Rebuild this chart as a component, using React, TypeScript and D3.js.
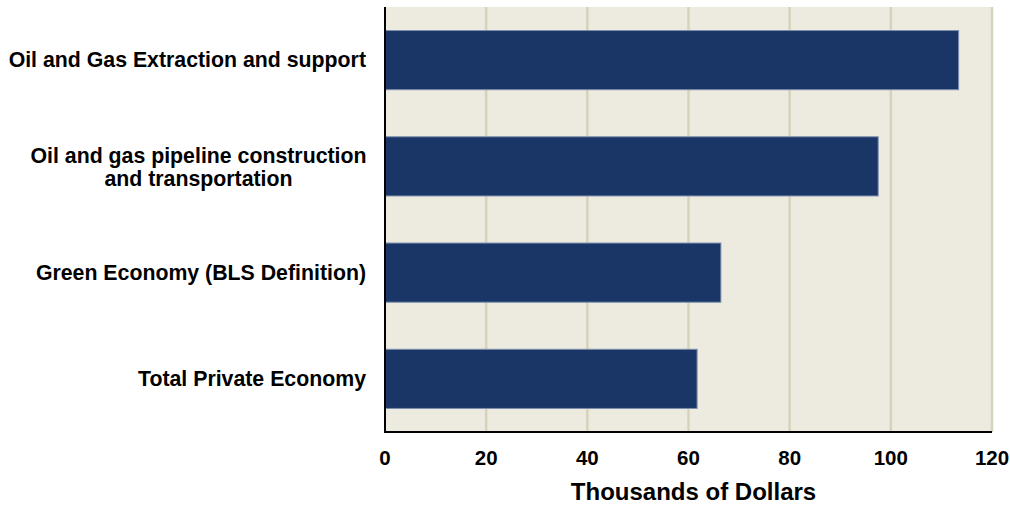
import React from "react";
import * as d3 from "d3";

const categories: string[][] = [
  ["Oil and Gas Extraction and support"],
  ["Oil and gas pipeline construction", "and transportation"],
  ["Green Economy (BLS Definition)"],
  ["Total Private Economy"],
];
const values: number[] = [113.4, 97.5, 66.4, 61.7];
const xTicks: number[] = [0, 20, 40, 60, 80, 100, 120];
const xTitle = "Thousands of Dollars";

const W = 1010;
const H = 506;
const margin = { left: 385, right: 18, top: 7, bottom: 74 };

export default function App() {
  const x = d3.scaleLinear().domain([0, 120]).range([margin.left, W - margin.right]);
  const y = d3
    .scaleBand<number>()
    .domain(categories.map((_, i) => i))
    .range([margin.top, H - margin.bottom])
    .paddingInner(0.443)
    .paddingOuter(0.2215);
  const font = "'Liberation Sans', Arial, sans-serif";
  const plotBottom = H - margin.bottom;
  return (
    <svg
      width={W}
      height={H}
      style={{ position: "absolute", left: 0, top: 0, background: "#fff" }}
      fontFamily={font}
    >
      <rect
        x={margin.left}
        y={margin.top}
        width={x(120) - margin.left}
        height={plotBottom - margin.top}
        fill="#edeae0"
      />
      {xTicks.slice(1).map((t) => (
        <line key={t} x1={x(t)} x2={x(t)} y1={margin.top} y2={plotBottom} stroke="#d6d3bb" strokeWidth={2.5} />
      ))}
      {values.map((v, i) => (
        <rect
          key={i}
          x={x(0)}
          y={y(i)!}
          width={x(v) - x(0)}
          height={y.bandwidth()}
          fill="#1a3667"
          stroke="#7d8fae"
          strokeWidth={1}
        />
      ))}
      <line x1={x(0)} x2={x(0)} y1={margin.top} y2={plotBottom + 1} stroke="#000" strokeWidth={2} />
      <line x1={x(0) - 1} x2={x(120)} y1={plotBottom} y2={plotBottom} stroke="#000" strokeWidth={2} />
      {xTicks.map((t) => (
        <text key={t} x={x(t)} y={plotBottom + 33} textAnchor="middle" fontSize={20.5} fontWeight="bold" fill="#000">
          {t}
        </text>
      ))}
      <text x={(x(0) + x(120)) / 2 + 5} y={H - 6} textAnchor="middle" fontSize={24} fontWeight="bold" fill="#000">
        {xTitle}
      </text>
      {categories.map((lines, i) => {
        const cy = y(i)! + y.bandwidth() / 2;
        if (lines.length === 1) {
          return (
            <text key={i} x={366} y={cy + 7} textAnchor="end" fontSize={21.3} fontWeight="bold" fill="#000">
              {lines[0]}
            </text>
          );
        }
        return (
          <text key={i} x={198.5} textAnchor="middle" fontSize={21.3} fontWeight="bold" fill="#000">
            {lines.map((l, j) => (
              <tspan key={j} x={198.5} y={cy + 8 + (j - (lines.length - 1) / 2) * 23}>
                {l}
              </tspan>
            ))}
          </text>
        );
      })}
    </svg>
  );
}
